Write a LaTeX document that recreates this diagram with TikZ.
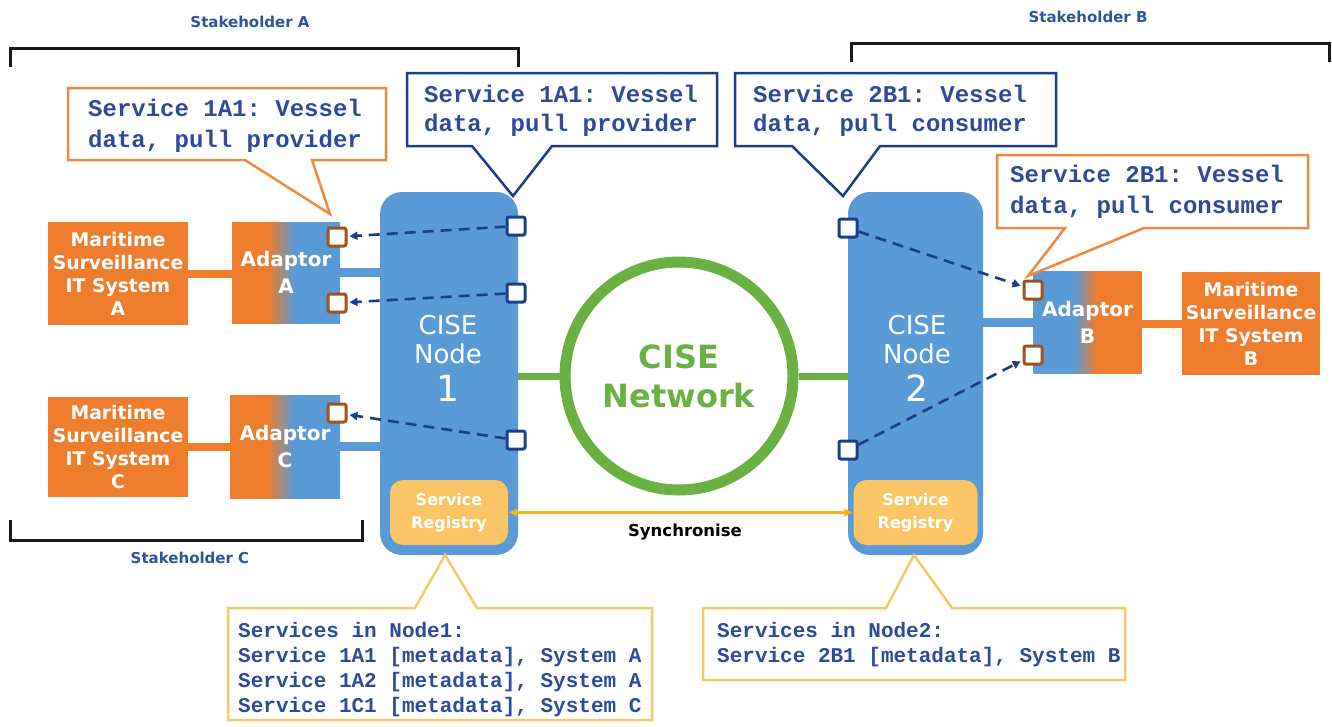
\documentclass[tikz,border=0pt]{standalone}
\usepackage{fontspec}
\setmainfont{DejaVu Sans}
\setmonofont{Liberation Mono}
\usetikzlibrary{arrows.meta}
\definecolor{cblue}{HTML}{5A9AD6}
\definecolor{dblue}{HTML}{1C3C8C}
\definecolor{txtblue}{HTML}{2F4A9A}
\definecolor{stblue}{HTML}{2F5597}
\definecolor{corange}{HTML}{EE7D2E}
\definecolor{ocallc}{HTML}{EE8A3E}
\definecolor{cbrown}{HTML}{A0511F}
\definecolor{creg}{HTML}{F9C567}
\definecolor{ycallc}{HTML}{F5C86A}
\definecolor{csync}{HTML}{F4B41A}
\definecolor{cgreen}{HTML}{6BB043}
\pgfdeclarehorizontalshading{adAshade}{100bp}{color(0bp)=(corange); color(42bp)=(corange); color(54bp)=(cblue); color(100bp)=(cblue)}
\pgfdeclarehorizontalshading{adBshade}{100bp}{color(0bp)=(cblue); color(44bp)=(cblue); color(54bp)=(corange); color(100bp)=(corange)}
\tikzset{
  bracket/.style={draw=black!90, line width=3pt},
  stake/.style={text=stblue, font=\bfseries\fontsize{15}{18}\selectfont, inner sep=0pt},
  sysbox/.style={rectangle, fill=corange, text=white, align=center, inner sep=0pt,
     font=\bfseries\fontsize{18.8}{23}\selectfont},
  adbox/.style={rectangle, text=white, align=center, inner sep=0pt,
     font=\bfseries\fontsize{20}{27}\selectfont},
  cisenode/.style={rectangle, fill=cblue, rounded corners=22pt, inner sep=0pt},
  nodetxt/.style={text=white, align=center, inner sep=0pt, font=\fontsize{26}{29}\selectfont},
  regbox/.style={rectangle, fill=creg, rounded corners=13pt, text=white, align=center, inner sep=0pt,
     font=\bfseries\fontsize{16}{23}\selectfont},
  sqb/.style={rectangle, draw=dblue, fill=white, line width=3pt, minimum size=18pt, inner sep=0pt, rounded corners=2pt},
  sqo/.style={rectangle, draw=cbrown, fill=white, line width=3pt, minimum size=18pt, inner sep=0pt, rounded corners=2pt},
  oconn/.style={draw=corange, line width=8pt},
  bconn/.style={draw=cblue, line width=9pt},
  gconn/.style={draw=cgreen, line width=7pt},
  darr/.style={draw=dblue, line width=2.6pt, dash pattern=on 11pt off 7pt, -{Triangle[length=8pt,width=8pt]}, shorten >=2pt},
  syncarr/.style={draw=csync, line width=3pt, {Latex[length=9pt,width=9pt]}-{Latex[length=9pt,width=9pt]}},
  ocall/.style={draw=ocallc, fill=white, line width=2.5pt, line join=miter},
  bcall/.style={draw=dblue, fill=white, line width=2.5pt, line join=miter},
  ycall/.style={draw=ycallc, fill=white, line width=2.5pt, line join=miter},
  ctxt/.style={anchor=west, text=txtblue, align=left, inner sep=0pt, font=\ttfamily\bfseries\fontsize{24}{31}\selectfont},
  ctxtsmall/.style={anchor=west, text=txtblue, align=left, inner sep=0pt, font=\ttfamily\bfseries\fontsize{21}{25}\selectfont},
}
\begin{document}
\begin{tikzpicture}[x=1pt,y=-1pt]
\fill[white] (0,0) rectangle (1332,726);
\useasboundingbox (0,0) rectangle (1332,726);

% stakeholder brackets
\draw[bracket] (10,67) -- (10,48) -- (518,48) -- (518,67);
\draw[bracket] (851,62) -- (851,43) -- (1329,43) -- (1329,62);
\draw[bracket] (10,520) -- (10,540) -- (362,540) -- (362,520);
\node[stake] (stA) at (250,22) {Stakeholder A};
\node[stake] (stB) at (1088,17) {Stakeholder B};
\node[stake] (stC) at (190,558) {Stakeholder C};

% CISE nodes
\node[cisenode, minimum width=138pt, minimum height=363pt] (n1) at (449,373.5) {};
\node[cisenode, minimum width=135pt, minimum height=363pt] (n2) at (915.5,373.5) {};
\node[nodetxt] (n1t) at (448,358) {CISE\\Node\\[9pt]{\fontsize{36}{36}\selectfont 1}};
\node[nodetxt] (n2t) at (917,358) {CISE\\Node\\[9pt]{\fontsize{36}{36}\selectfont 2}};
\node[regbox, minimum width=118pt, minimum height=65pt] (r1) at (449,512.5) {Service\\Registry};
\node[regbox, minimum width=124pt, minimum height=65pt] (r2) at (915.5,512.5) {Service\\Registry};

% network
\node[circle, draw=cgreen, line width=11pt, minimum size=228pt, inner sep=0pt, text=cgreen, align=center,
      font=\bfseries\fontsize{32}{39}\selectfont] (net) at (679,376) {CISE\\Network};
\draw[gconn] (n1.east |- net.center) -- (net.west);
\draw[gconn] (net.east) -- (net.east -| n2.west);

% systems
\node[sysbox, minimum width=140pt, minimum height=103pt] (mA) at (118,273.5) {Maritime\\Surveillance\\IT System\\A};
\node[sysbox, minimum width=140pt, minimum height=100pt] (mC) at (118,447) {Maritime\\Surveillance\\IT System\\C};
\node[sysbox, minimum width=138pt, minimum height=103pt] (mB) at (1251,323.5) {Maritime\\Surveillance\\IT System\\B};

% adaptors
\node[adbox, shade, shading=adAshade, minimum width=108pt, minimum height=101pt] (adA) at (286,272.5) {Adaptor\\A};
\node[adbox, shade, shading=adAshade, minimum width=110pt, minimum height=103pt] (adC) at (285,446.5) {Adaptor\\C};
\node[adbox, shade, shading=adBshade, minimum width=108pt, minimum height=102pt] (adB) at (1087.5,322.5) {Adaptor\\B};

% connectors
\draw[oconn] (mA.east) -- (mA.east -| adA.west);
\draw[oconn] (mC.east) -- (mC.east -| adC.west);
\draw[oconn] (mB.west) -- (mB.west -| adB.east);
\draw[bconn] (adA.east) -- (adA.east -| n1.west);
\draw[bconn] (adC.east) -- (adC.east -| n1.west);
\draw[bconn] (adB.west) -- (adB.west -| n2.east);

% service ports
\node[sqb] (p11) at (516,226) {};
\node[sqb] (p12) at (516,293) {};
\node[sqb] (p13) at (516,440) {};
\node[sqb] (p21) at (848,228) {};
\node[sqb] (p22) at (848,450) {};
\node[sqo] (sa1) at (337,237) {};
\node[sqo] (sa2) at (337,303) {};
\node[sqo] (sc1) at (337,413) {};
\node[sqo] (sb1) at (1033,290) {};
\node[sqo] (sb2) at (1033,355) {};

\draw[darr] (p11) -- (sa1);
\draw[darr] (p12) -- (sa2);
\draw[darr] (p13) -- (sc1);
\draw[darr] (p21) -- (sb1);
\draw[darr] (p22) -- (sb2);

% synchronise
\draw[syncarr] (r1.east) -- (r2.west);
\node[font=\bfseries\fontsize{16.5}{18}\selectfont, inner sep=0pt] (sync) at (685,532) {Synchronise};

% callouts
\draw[ocall] (68,88) -- (386,88) -- (386,160) -- (312,160) -- (330,214) -- (245,160) -- (68,160) -- cycle;
\node[ctxt] (cA) at (88,125.5) {Service 1A1: Vessel\\data, pull provider};

\draw[bcall] (407,73) -- (717,73) -- (717,146) -- (552,146) -- (513,196) -- (472,146) -- (407,146) -- cycle;
\node[ctxt, font=\ttfamily\bfseries\fontsize{24}{29}\selectfont] (c1) at (424,110.5) {Service 1A1: Vessel\\data, pull provider};

\draw[bcall] (735,73) -- (1056,73) -- (1056,146) -- (880,146) -- (843,196) -- (792,146) -- (735,146) -- cycle;
\node[ctxt, font=\ttfamily\bfseries\fontsize{24}{29}\selectfont] (c2) at (753,110.5) {Service 2B1: Vessel\\data, pull consumer};

\draw[ocall] (997,155) -- (1308,155) -- (1308,228) -- (1144,228) -- (1028,276) -- (1065,228) -- (997,228) -- cycle;
\node[ctxt] (cB) at (1010,191.5) {Service 2B1: Vessel\\data, pull consumer};

\draw[ycall] (228,608) -- (415,608) -- (445,555) -- (477,608) -- (652,608) -- (652,720) -- (228,720) -- cycle;
\node[ctxtsmall] (reg1) at (238,669.5) {Services in Node1:\\Service 1A1 [metadata], System A\\Service 1A2 [metadata], System A\\Service 1C1 [metadata], System C};

\draw[ycall] (703,608) -- (886,608) -- (914,555) -- (952,608) -- (1125,608) -- (1125,680) -- (703,680) -- cycle;
\node[ctxtsmall] (reg2) at (717,644.5) {Services in Node2:\\Service 2B1 [metadata], System B};
\end{tikzpicture}
\end{document}
